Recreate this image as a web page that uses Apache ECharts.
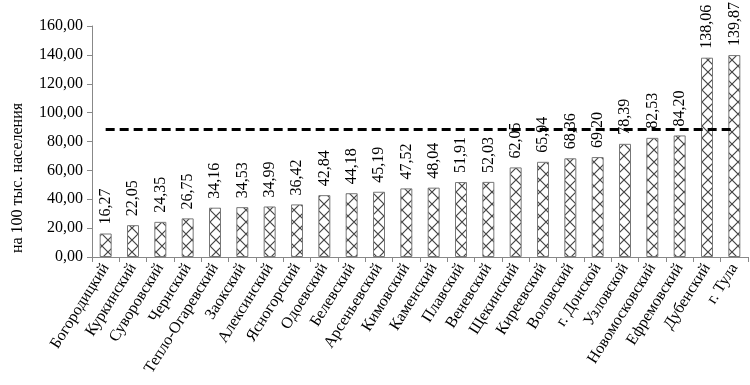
<!DOCTYPE html>
<html><head><meta charset="utf-8">
<script src="https://cdn.jsdelivr.net/npm/echarts@6/dist/echarts.min.js"></script>
<style>html,body{margin:0;padding:0;background:#fff}#c{width:750px;height:385px}</style>
</head><body><div id="c"></div>
<script>
const categories = ['Богородицкий','Куркинский','Суворовский','Чернский','Тепло-Огаревский','Заокский','Алексинский','Ясногорский','Одоевский','Белевский','Арсеньевский','Кимовский','Каменский','Плавский','Веневский','Щекинский','Киреевский','Воловский','г. Донской','Узловской','Новомосковский','Ефремовский','Дубенский','г. Тула'];
const values = [16.27,22.05,24.35,26.75,34.16,34.53,34.99,36.42,42.84,44.18,45.19,47.52,48.04,51.91,52.03,62.05,65.94,68.36,69.20,78.39,82.53,84.20,138.06,139.87];
const regionAverage = 88.7;
const yTicks = {min:0, max:160, interval:20};
const yName = 'на 100 тыс. населения';

const cv = document.createElement('canvas');
cv.width = 12; cv.height = 12;
const g = cv.getContext('2d');
g.fillStyle = '#fff'; g.fillRect(0,0,12,12);
g.strokeStyle = '#444'; g.lineWidth = 1.2;
g.beginPath(); g.moveTo(0,0); g.lineTo(12,12); g.moveTo(12,0); g.lineTo(0,12); g.stroke();

const fmt = v => v.toFixed(2).replace('.', ',');
const FF = '"Liberation Serif", "Times New Roman", serif';
const chart = echarts.init(document.getElementById('c'));
chart.setOption({
  animation:false,
  backgroundColor:'#fff',
  grid:{left:92, right:2, top:26, bottom:128},
  xAxis:{type:'category', data:categories,
    axisLine:{lineStyle:{color:'#888'}},
    axisTick:{show:true, alignWithLabel:false, length:5, lineStyle:{color:'#888'}},
    axisLabel:{interval:0, rotate:58, color:'#000', fontFamily:FF, fontSize:16, margin:8}},
  yAxis:{type:'value', min:yTicks.min, max:yTicks.max, interval:yTicks.interval,
    axisLine:{show:true, lineStyle:{color:'#888'}},
    axisTick:{show:true, length:5, lineStyle:{color:'#888'}},
    splitLine:{show:false},
    axisLabel:{color:'#000', fontFamily:FF, fontSize:16, margin:9, formatter:v=>fmt(v)}},
  graphic:[{type:'text', x:18, y:178, rotation:Math.PI/2,
    style:{text:yName, fill:'#000', fontFamily:FF, fontSize:16, textAlign:'center', textVerticalAlign:'middle'}}],
  series:[{type:'bar', data:values, barWidth:12,
    itemStyle:{color:{image:cv, repeat:'repeat'}, borderColor:'#777', borderWidth:1},
    label:{show:true, position:'top', rotate:90, align:'left', verticalAlign:'middle', distance:9,
      color:'#000', fontFamily:FF, fontSize:16, formatter:p=>fmt(p.value)},
    markLine:{symbol:'none', silent:true, label:{show:false},
      lineStyle:{color:'#000', type:[9,5], width:3},
      data:[[{coord:[categories[0], regionAverage]},{coord:[categories[categories.length-1], regionAverage]}]]}
  }]
});
</script></body></html>
